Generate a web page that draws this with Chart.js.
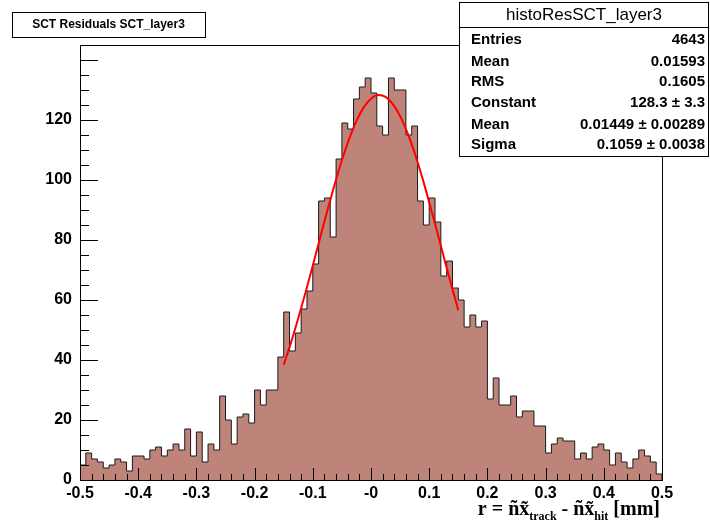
<!DOCTYPE html>
<html>
<head>
<meta charset="utf-8">
<script src="https://cdn.jsdelivr.net/npm/chart.js@4.4.1/dist/chart.umd.min.js"></script>
<style>
html, body { margin: 0; padding: 0; background: #fff; }
</style>
</head>
<body>
<canvas id="hist" width="710" height="522"></canvas>
<script>
// binning of the histogram
const xMin = -0.5, xMax = 0.5, binWidth = 0.01;
const yMax = 145;

// bin contents (100 bins from -0.5 to 0.5)
const counts = [
   5,  9,  7,  6,  4,  5,  7,  6,  3,  8,
   8,  7, 10, 11,  8, 10, 12, 10, 17,  8,
  16,  6, 12, 10, 28, 20, 12, 21, 22, 19,
  30, 25, 30, 30, 41, 56, 43, 49, 57, 63,
  72, 93, 94, 81,107,119,117,127,131,134,
 129,118,115,134,130,130,115,118, 93, 85,
  94, 86, 68, 73, 64, 60, 51, 55, 51, 53,
  27, 34, 25, 25, 28, 21, 23, 23, 18, 18,
   9, 12, 14, 13, 13,  7,  9,  7, 11, 12,
  10,  5,  9,  6,  4,  7, 10,  8,  6,  2
];

// gaussian fit curve
const fitX = [-0.15, -0.1375, -0.125, -0.1125, -0.1, -0.0875, -0.075, -0.0625, -0.05, -0.0375, -0.025, -0.0125,
              0, 0.0125, 0.025, 0.0375, 0.05, 0.0625, 0.075, 0.0875, 0.1, 0.1125, 0.125, 0.1375, 0.15];
const fitY = [38.4, 45.8, 53.9, 62.5, 71.5, 80.7, 89.8, 98.5, 106.6, 113.7, 119.7, 124.2,
              127.1, 128.3, 127.7, 125.3, 121.3, 115.8, 109.0, 101.2, 92.6, 83.6, 74.4, 65.3, 56.6];

const xTicks = [-0.5, -0.4, -0.3, -0.2, -0.1, 0, 0.1, 0.2, 0.3, 0.4, 0.5];
const xTickLabels = ['-0.5', '-0.4', '-0.3', '-0.2', '-0.1', '-0', '0.1', '0.2', '0.3', '0.4', '0.5'];
const yTicks = [0, 20, 40, 60, 80, 100, 120];

const histTitle = 'SCT Residuals SCT_layer3';
const statsTitle = 'histoResSCT_layer3';
const statsLabels = ['Entries', 'Mean', 'RMS', 'Constant', 'Mean', 'Sigma'];
const statsValues = ['4643', '0.01593', '0.1605', '128.3 \u00b1 3.3', '0.01449 \u00b1 0.00289', '0.1059 \u00b1 0.0038'];

// build step outline points (left edge of each bin, closed down to 0 at both ends)
const histPoints = [{ x: xMin, y: 0 }];
counts.forEach((c, i) => histPoints.push({ x: xMin + i * binWidth, y: c }));
histPoints.push({ x: xMax, y: counts[counts.length - 1] });
histPoints.push({ x: xMax, y: 0 });

const fitPoints = fitX.map((x, i) => ({ x: x, y: fitY[i] }));

const SANS = '"Liberation Sans", Arial, Helvetica, sans-serif';
const SERIF = '"Liberation Serif", "Times New Roman", serif';

// ROOT style frame, inward ticks, title and stats boxes
const rootDecor = {
    id: 'rootDecor',
    beforeDraw(chart) {
        const ctx = chart.ctx;
        ctx.save();
        ctx.fillStyle = '#fff';
        ctx.fillRect(0, 0, chart.width, chart.height);
        ctx.restore();
    },
    afterDraw(chart) {
        const ctx = chart.ctx;
        const a = chart.chartArea;
        const xs = chart.scales.x, ys = chart.scales.y;
        ctx.save();
        ctx.strokeStyle = '#000';
        ctx.lineWidth = 1;

        // frame
        ctx.strokeRect(Math.round(a.left) + 0.5, Math.round(a.top) + 0.5,
                       Math.round(a.right - a.left), Math.round(a.bottom - a.top));

        // x ticks every 0.02, major every 0.1
        ctx.beginPath();
        for (let i = 0; i <= 50; i++) {
            const px = Math.round(xs.getPixelForValue(xMin + i * 0.02)) + 0.5;
            const len = (i % 5 === 0) ? 12 : 6;
            ctx.moveTo(px, a.bottom);
            ctx.lineTo(px, a.bottom - len);
        }
        // y ticks every 5, major every 20
        for (let v = 0; v <= yMax; v += 5) {
            const py = Math.round(ys.getPixelForValue(v)) + 0.5;
            const len = (v % 20 === 0) ? 18 : 9;
            ctx.moveTo(a.left, py);
            ctx.lineTo(a.left + len, py);
        }
        ctx.stroke();

        // title box
        ctx.fillStyle = '#fff';
        ctx.fillRect(12, 12, 193, 25);
        ctx.strokeRect(12.5, 12.5, 193, 25);
        ctx.fillStyle = '#000';
        ctx.font = 'bold 12px ' + SANS;
        ctx.textAlign = 'center';
        ctx.textBaseline = 'middle';
        ctx.fillText(histTitle, 108.5, 25);

        // stats box
        const bx = 459, by = 2, bw = 250, bh = 154;
        ctx.fillStyle = '#fff';
        ctx.fillRect(bx, by, bw, bh);
        ctx.strokeRect(bx + 0.5, by + 0.5, bw - 1, bh);
        ctx.beginPath();
        ctx.moveTo(bx, 27.5);
        ctx.lineTo(bx + bw, 27.5);
        ctx.stroke();
        ctx.fillStyle = '#000';
        ctx.font = '17px ' + SANS;
        ctx.textAlign = 'center';
        ctx.fillText(statsTitle, bx + bw / 2, 15);
        const rowY = [40, 61.5, 82, 103, 124.5, 145];
        ctx.font = 'bold 15px ' + SANS;
        statsLabels.forEach((lab, i) => {
            ctx.textAlign = 'left';
            ctx.fillText(lab, 471, rowY[i]);
            ctx.textAlign = 'right';
            ctx.fillText(statsValues[i], 705, rowY[i]);
        });

        // x axis title with subscripts
        const big = 'bold 20px ' + SERIF, small = 'bold 12px ' + SERIF;
        const parts = [
            ['r = \u00f1x\u0303', big, 0],
            ['track', small, 5],
            [' - \u00f1x\u0303', big, 0],
            ['hit', small, 5],
            [' [mm]', big, 0]
        ];
        let total = 0;
        parts.forEach(p => { ctx.font = p[1]; total += ctx.measureText(p[0]).width; });
        let cx = 660 - total;
        ctx.textAlign = 'left';
        ctx.textBaseline = 'alphabetic';
        parts.forEach(p => {
            ctx.font = p[1];
            ctx.fillText(p[0], cx, 515 + p[2]);
            cx += ctx.measureText(p[0]).width;
        });
        ctx.restore();
    }
};

new Chart(document.getElementById('hist'), {
    type: 'line',
    data: {
        datasets: [
            {
                label: 'fit',
                data: fitPoints,
                borderColor: '#ff0000',
                borderWidth: 2,
                pointRadius: 0,
                fill: false,
                cubicInterpolationMode: 'monotone',
                order: 0
            },
            {
                label: 'histoResSCT_layer3',
                data: histPoints,
                stepped: true,
                borderColor: '#1a1a1a',
                borderWidth: 1,
                backgroundColor: 'rgb(190, 132, 121)',
                fill: 'origin',
                pointRadius: 0,
                order: 1
            }
        ]
    },
    options: {
        responsive: false,
        animation: false,
        layout: { padding: { top: 45, right: 48, left: 0, bottom: 0 } },
        plugins: {
            legend: { display: false },
            tooltip: { enabled: false },
            title: { display: false }
        },
        scales: {
            x: {
                type: 'linear',
                min: xMin,
                max: xMax,
                afterBuildTicks: (scale) => { scale.ticks = xTicks.map(v => ({ value: v })); },
                afterFit: (scale) => { scale.height = 42; },
                grid: { display: false, drawTicks: false },
                border: { display: false },
                ticks: {
                    autoSkip: false,
                    maxRotation: 0,
                    padding: 4,
                    color: '#000',
                    font: { family: SANS, size: 16, weight: 'bold' },
                    callback: (v, i) => xTickLabels[i]
                }
            },
            y: {
                type: 'linear',
                min: 0,
                max: yMax,
                afterBuildTicks: (scale) => { scale.ticks = yTicks.map(v => ({ value: v })); },
                afterFit: (scale) => { scale.width = 80; },
                grid: { display: false, drawTicks: false },
                border: { display: false },
                ticks: {
                    padding: 8,
                    color: '#000',
                    font: { family: SANS, size: 16, weight: 'bold' },
                    callback: (v) => String(v)
                }
            }
        }
    },
    plugins: [rootDecor]
});
</script>
</body>
</html>
